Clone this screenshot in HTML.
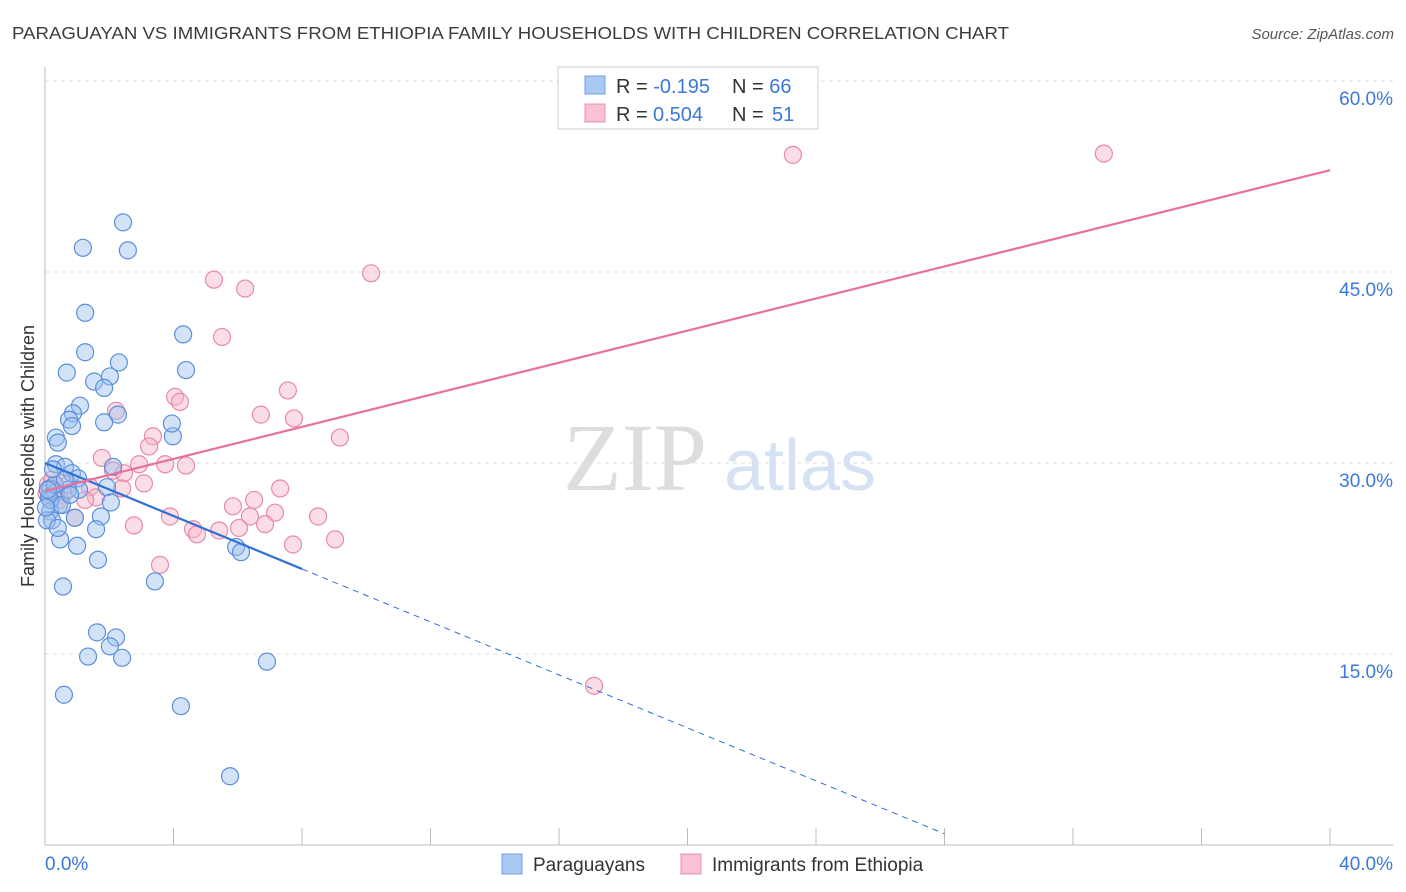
<!DOCTYPE html>
<html><head><meta charset="utf-8"><style>
body{margin:0;background:#fff;font-family:"Liberation Sans",sans-serif;}
svg{display:block}
</style></head><body>
<svg id="c" width="1406" height="892">
<text x="12" y="39" font-size="17.5" fill="#3c3c3c" textLength="997" lengthAdjust="spacingAndGlyphs">PARAGUAYAN VS IMMIGRANTS FROM ETHIOPIA FAMILY HOUSEHOLDS WITH CHILDREN CORRELATION CHART</text>
<text x="1394" y="39" font-size="15" fill="#555" font-style="italic" text-anchor="end">Source: ZipAtlas.com</text>
<text x="635" y="490" font-size="96" fill="#ddd" font-family="Liberation Serif,serif" text-anchor="middle">ZIP</text>
<text x="800" y="490" font-size="72" fill="#d4e2f4" text-anchor="middle">atlas</text>
<text transform="translate(34,456) rotate(-90)" font-size="18" fill="#333" text-anchor="middle">Family Households with Children</text>
<g id="grid"></g><g id="pts"></g><g id="lines"></g>
<g>
<rect x="558" y="67" width="260" height="62" fill="#fff" stroke="#ccc"/>
<rect x="585" y="76" width="20" height="18" fill="#a9c9f2" stroke="#6f9fe0"/>
<rect x="585" y="104" width="20" height="18" fill="#f9c2d2" stroke="#e891ae"/>
<text x="616" y="93" font-size="20" fill="#333">R = <tspan fill="#3b78d8">-0.195</tspan><tspan x="732">N = </tspan><tspan fill="#3b78d8">66</tspan></text>
<text x="616" y="121" font-size="20" fill="#333">R = <tspan fill="#3b78d8" x="653">0.504</tspan><tspan x="732">N = </tspan><tspan fill="#3b78d8" x="772">51</tspan></text>
</g>
<g>
<rect x="502" y="854" width="20" height="20" fill="#a9c9f2" stroke="#6f9fe0"/>
<text x="533" y="871" font-size="19" fill="#333">Paraguayans</text>
<rect x="681" y="854" width="20" height="20" fill="#f9c2d2" stroke="#e891ae"/>
<text x="712" y="871" font-size="19" fill="#333">Immigrants from Ethiopia</text>
</g>
</svg>
<script>
const blueX=[2.43,1.18,2.58,1.25,4.30,1.25,2.30,0.68,4.39,1.53,2.02,1.84,1.09,0.87,0.75,2.27,0.84,1.84,0.34,0.40,3.98,3.95,0.34,0.62,0.84,2.12,1.03,1.06,0.16,0.34,0.72,1.93,0.12,0.44,2.05,0.16,1.74,0.22,0.93,1.59,0.47,1.00,5.95,6.10,1.65,3.42,0.56,1.62,2.21,2.02,1.34,2.40,6.91,0.59,4.23,5.76,0.16,0.06,0.31,0.53,0.78,0.25,0.03,0.40,0.09,0.62];
const blueY=[48.9,46.9,46.7,41.8,40.1,38.7,37.9,37.1,37.3,36.4,36.8,35.9,34.5,33.9,33.4,33.8,32.9,33.2,32.0,31.6,32.1,33.1,29.9,29.7,29.2,29.7,28.8,27.9,28.0,27.7,27.9,28.1,27.3,26.7,26.9,26.2,25.8,25.5,25.7,24.8,24.0,23.5,23.4,23.0,22.4,20.7,20.3,16.7,16.3,15.6,14.8,14.7,14.4,11.8,10.9,5.4,27.1,25.5,28.3,26.7,27.5,29.5,26.5,24.9,27.9,28.7];
const pinkX=[23.28,32.96,10.15,5.26,6.23,5.51,7.56,4.05,4.20,2.21,6.72,7.75,3.36,9.18,3.24,1.77,2.93,3.74,4.39,2.12,2.46,3.08,1.40,2.40,7.32,1.59,6.51,0.09,0.31,0.56,5.85,7.16,6.38,8.50,3.89,0.93,6.85,2.77,6.04,4.61,4.73,5.42,9.03,7.72,3.58,17.09,0.22,0.47,1.25,0.72,0.05];
const pinkY=[54.2,54.3,44.9,44.4,43.7,39.9,35.7,35.2,34.8,34.1,33.8,33.5,32.1,32.0,31.3,30.4,29.9,29.9,29.8,29.4,29.2,28.4,28.1,28.0,28.0,27.3,27.1,28.3,27.9,27.5,26.6,26.1,25.8,25.8,25.8,25.7,25.2,25.1,24.9,24.8,24.4,24.7,24.0,23.6,22.0,12.5,28.7,27.1,27.1,28.3,27.6];
const yTicks=[15,30,45,60];
const yTickLabels=["15.0%","30.0%","45.0%","60.0%"];
const xTickVals=[0,4,8,12,16,20,24,28,32,36,40];
const xLabels=[[0,"0.0%"],[40,"40.0%"]];
const blueTrend=[30.0,-1.04];
const pinkTrend=[27.8,0.63];
const blueSolidEnd=8.0, blueDashEnd=28.0;

const X=v=>45+v*32.125, Y=v=>845-v*12.733;
const NS="http://www.w3.org/2000/svg";
function mk(t,a,p){const e=document.createElementNS(NS,t);for(const k in a)e.setAttribute(k,a[k]);p.appendChild(e);return e;}
const g=document.getElementById('grid'),P=document.getElementById('pts'),L=document.getElementById('lines');
yTicks.forEach((v,i)=>{
 const l=mk('line',{x1:45,x2:1393,y1:Y(v),y2:Y(v),stroke:'#ddd','stroke-dasharray':'4,4'},g);
 
 
 const t=mk('text',{x:1393,y:Y(v)+24,'font-size':19,fill:'#3b78d8','text-anchor':'end'},g);t.textContent=yTickLabels[i];
 
 
});
const ax=mk('line',{x1:45,x2:1393,y1:845,y2:845,stroke:'#bbb'},g);


const ay=mk('line',{x1:45,x2:45,y1:67,y2:845,stroke:'#bbb'},g);


xTickVals.forEach(v=>{const t=mk('line',{x1:X(v),x2:X(v),y1:828,y2:845,stroke:'#bbb'},g);
 
 });
xLabels.forEach(([v,s])=>{const t=mk('text',{x:X(v),y:870,'font-size':19,fill:'#3b78d8','text-anchor':v==0?'start':'end'},g);
 if(v!=0)t.setAttribute('x',1393);t.textContent=s;
 
 });
function pts(xs,ys,f,s,n){xs.forEach((x,i)=>{const c=mk('circle',{cx:X(x),cy:Y(ys[i]),r:8.5,fill:f,'fill-opacity':0.45,stroke:s,'stroke-width':1.2},P);
 
 });}
pts(pinkX,pinkY,'#f7b3c8','#e88aaa','point-ethiopia');
pts(blueX,blueY,'#9ec1ee','#5b8fdc','point-paraguayan');
const bt=x=>blueTrend[0]+blueTrend[1]*x, pt=x=>pinkTrend[0]+pinkTrend[1]*x;
const l1=mk('line',{x1:X(0),y1:Y(bt(0)),x2:X(blueSolidEnd),y2:Y(bt(blueSolidEnd)),stroke:'#2f6fd6','stroke-width':2.2},L);


const l2=mk('line',{x1:X(blueSolidEnd),y1:Y(bt(blueSolidEnd)),x2:X(blueDashEnd),y2:Y(bt(blueDashEnd)),stroke:'#2f6fd6','stroke-width':1,'stroke-dasharray':'6,5'},L);


const l3=mk('line',{x1:X(0),y1:Y(pt(0)),x2:X(40),y2:Y(pt(40)),stroke:'#e8709a','stroke-width':2.2},L);


</script>
</body></html>
